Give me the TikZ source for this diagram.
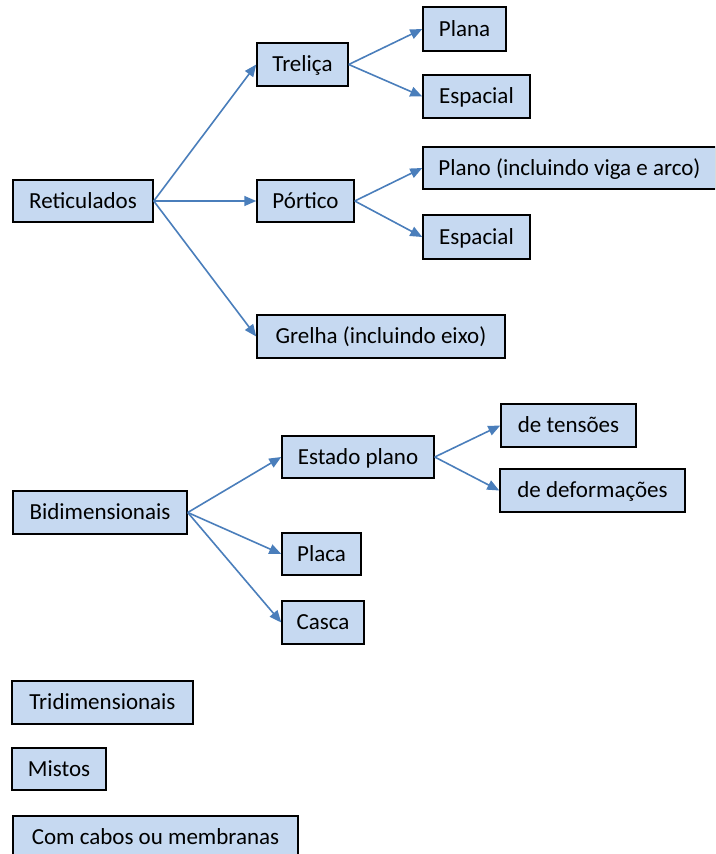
\documentclass[tikz,border=0pt]{standalone}
\usepackage{fontspec}
\setmainfont{Carlito}
\usetikzlibrary{arrows.meta}
\definecolor{boxfill}{HTML}{C6D9F1}
\definecolor{arrowcol}{HTML}{4A7EBB}
\tikzset{
  box/.style={draw=black, fill=boxfill, line width=1.5pt, inner sep=0pt,
    font=\fontsize{23}{27}\selectfont, text height=18pt, text depth=4pt, align=center},
  conn/.style={draw=arrowcol, line width=1.6pt, -{Triangle[length=12pt,width=10pt]}}
}
\begin{document}
\begin{tikzpicture}[x=1pt,y=-1pt]
\path[use as bounding box, clip] (0,0) rectangle (715,854);
\node[box, minimum width=140pt, minimum height=42pt] (ret) at (83,201) {Reticulados};
\node[box, minimum width=91pt, minimum height=43pt] (tre) at (302.5,64.5) {Treliça};
\node[box, minimum width=97pt, minimum height=42pt] (por) at (305.5,201) {Pórtico};
\node[box, minimum width=83pt, minimum height=44pt] (pla) at (464.5,29) {Plana};
\node[box, minimum width=107pt, minimum height=43pt] (esp1) at (476.5,96.5) {Espacial};
\node[box, minimum width=293pt, minimum height=42pt] (plano) at (569.5,168) {Plano (incluindo viga e arco)};
\node[box, minimum width=107pt, minimum height=44pt] (esp2) at (476.5,237) {Espacial};
\node[box, minimum width=248pt, minimum height=43pt] (gre) at (381,336.5) {Grelha (incluindo eixo)};
\node[box, minimum width=174pt, minimum height=43pt] (bid) at (100,512.5) {Bidimensionais};
\node[box, minimum width=152pt, minimum height=42pt] (est) at (358,457) {Estado plano};
\node[box, minimum width=135pt, minimum height=43pt] (ten) at (568.5,425.5) {de tensões};
\node[box, minimum width=185pt, minimum height=43pt] (def) at (592.5,490.5) {de deformações};
\node[box, minimum width=79pt, minimum height=42pt] (plc) at (321.5,554) {Placa};
\node[box, minimum width=82pt, minimum height=43pt] (cas) at (323,622.5) {Casca};
\node[box, minimum width=181pt, minimum height=43pt] (tri) at (102.5,702.5) {Tridimensionais};
\node[box, minimum width=94pt, minimum height=42pt] (mis) at (59,769) {Mistos};
\node[box, minimum width=285pt, minimum height=43pt] (com) at (155.5,837.5) {Com cabos ou membranas};
\draw[conn] (ret.east) -- (tre.west);
\draw[conn] (ret.east) -- (por.west);
\draw[conn] (ret.east) -- (gre.west);
\draw[conn] (tre.east) -- (pla.west);
\draw[conn] (tre.east) -- (esp1.west);
\draw[conn] (por.east) -- (plano.west);
\draw[conn] (por.east) -- (esp2.west);
\draw[conn] (bid.east) -- (est.west);
\draw[conn] (bid.east) -- (plc.west);
\draw[conn] (bid.east) -- (cas.west);
\draw[conn] (est.east) -- (ten.west);
\draw[conn] (est.east) -- (def.west);
\end{tikzpicture}
\end{document}
